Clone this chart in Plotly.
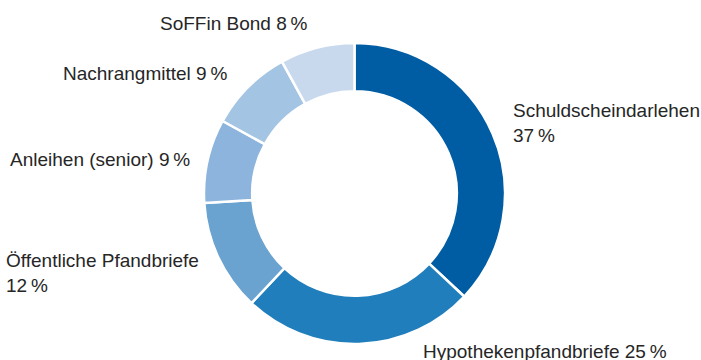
import plotly.graph_objects as go

W, H = 701, 360

categories = ["Schuldscheindarlehen", "Hypothekenpfandbriefe", "Öffentliche Pfandbriefe",
              "Anleihen (senior)", "Nachrangmittel", "SoFFin Bond"]
values = [37, 25, 12, 9, 9, 8]
colors = ["#005ca3", "#1f7ebb", "#6aa2d0", "#8cb4dc", "#a3c4e3", "#c8d9ee"]

# label texts (with thin space before %), and label placement in pixels (left x, center y)
label_texts = [
    "Schuldscheindarlehen<br>37\u2009%",
    "Hypothekenpfandbriefe 25\u2009%",
    "Öffentliche Pfandbriefe<br>12\u2009%",
    "Anleihen (senior) 9\u2009%",
    "Nachrangmittel 9\u2009%",
    "SoFFin Bond 8\u2009%",
]
label_pos = [(511, 123), (421, 351), (4, 273), (8, 159), (61, 74), (158, 23)]

# donut geometry in pixels
cx, cy, r = 354.5, 193.5, 150.5

fig = go.Figure(go.Pie(
    labels=categories,
    values=values,
    sort=False,
    direction="clockwise",
    rotation=0,
    hole=0.68,
    textinfo="none",
    hoverinfo="label+percent",
    marker=dict(colors=colors, line=dict(color="white", width=2.5)),
    domain=dict(x=[(cx - r) / W, (cx + r) / W], y=[(H - cy - r) / H, (H - cy + r) / H]),
    showlegend=False,
))

for txt, (px, py) in zip(label_texts, label_pos):
    fig.add_annotation(
        x=px / W, y=1 - py / H, xref="paper", yref="paper",
        text=txt, showarrow=False, xanchor="left", yanchor="middle", align="left",
        font=dict(family="Liberation Sans, Arial, sans-serif", size=19, color="#262626"),
    )

fig.update_layout(
    width=W, height=H,
    margin=dict(l=0, r=0, t=0, b=0),
    paper_bgcolor="white",
    plot_bgcolor="white",
)

fig.write_html("out.html")
